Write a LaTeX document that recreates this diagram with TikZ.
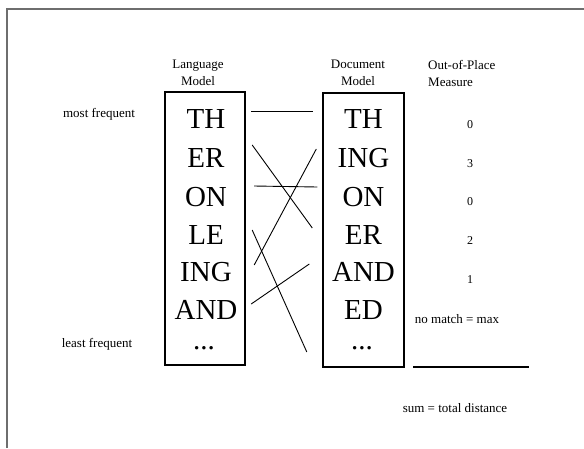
\documentclass[tikz,border=0pt]{standalone}
\usepackage{fontspec}
\setmainfont{Liberation Serif}
\usepackage{tikz}
\usetikzlibrary{positioning, calc}
\definecolor{framegray}{RGB}{110,110,110}

\begin{document}
\begin{tikzpicture}[x=1pt,y=-1pt,
    modelbox/.style={draw,line width=1.2pt,minimum width=80pt,inner sep=0pt},
    gram/.style={font=\fontsize{29}{30}\selectfont,minimum width=80pt,inner sep=0pt},
    label/.style={font=\fontsize{13}{17}\selectfont,align=center,inner sep=0pt},
    rank/.style={font=\fontsize{12}{14}\selectfont,inner sep=0pt},
    link/.style={line width=0.9pt}]
    \useasboundingbox (0,0) rectangle (584,448);

    % outer frame
    \draw[framegray,line width=1.5pt] (7,448) -- (7,9) -- (584,9);

    % Language model
    \node[modelbox,minimum height=273pt] (lm) at (205,228.5) {};
    \foreach \g/\y [count=\i] in {TH/119,ER/158,ON/197,LE/235,ING/272,AND/310}
        \node[gram] (lm-\i) at (206,\y) {\g};
    \node[gram] (lm-dots) at (204,348) {...};
    \node[label] (lmhead) at (198,73) {Language\\Model};

    % Document model
    \node[modelbox,minimum height=274pt,minimum width=81pt] (dm) at (363.5,230) {};
    \foreach \g/\y [count=\i] in {TH/119,ING/158,ON/197,ER/235,AND/272,ED/310}
        \node[gram] (dm-\i) at (363.5,\y) {\g};
    \node[gram] (dm-dots) at (362,348) {...};
    \node[label] (dmhead) at (358,73) {Document\\Model};

    % ranks
    \node[label] (most) at (99,114) {most frequent};
    \node[label] (least) at (97,344) {least frequent};

    % Out-of-place measure
    \node[label,align=left,anchor=west] (oophead) at (428,73) {Out-of-Place\\Measure};
    \foreach \d/\y [count=\i] in {0/125,3/164,0/202,2/241,1/280}
        \node[rank] (oop-\i) at (470,\y) {\d};
    \node[label] (nomatch) at (457,319) {no match = max};
    \draw[line width=1.2pt] (413,367) -- (529,367);
    \node[label] (sum) at (455,408) {sum = total distance};

    % Links
    \draw[link] ([xshift=5pt,yshift=8pt]lm-1.east) -- ([xshift=-10pt,yshift=8pt]dm-1.west);
    \draw[link] ([xshift=6pt,yshift=13pt]lm-2.east) -- ([xshift=-11pt,yshift=7pt]dm-4.west);
    \draw[link] ([xshift=8pt,yshift=7pt]lm-5.east) -- ([xshift=-7pt,yshift=9pt]dm-2.west);
    \draw[link] ([xshift=8pt,yshift=11pt]lm-3.east) -- ([xshift=-6pt,yshift=10pt]dm-3.west);
    \draw[link] ([xshift=6pt,yshift=5pt]lm-4.east) -- ([xshift=-15pt,yshift=-4pt]dm-dots.west);
    \draw[link] ([xshift=5pt,yshift=6pt]lm-6.east) -- ([xshift=-14pt,yshift=8pt]dm-5.west);
\end{tikzpicture}
\end{document}
